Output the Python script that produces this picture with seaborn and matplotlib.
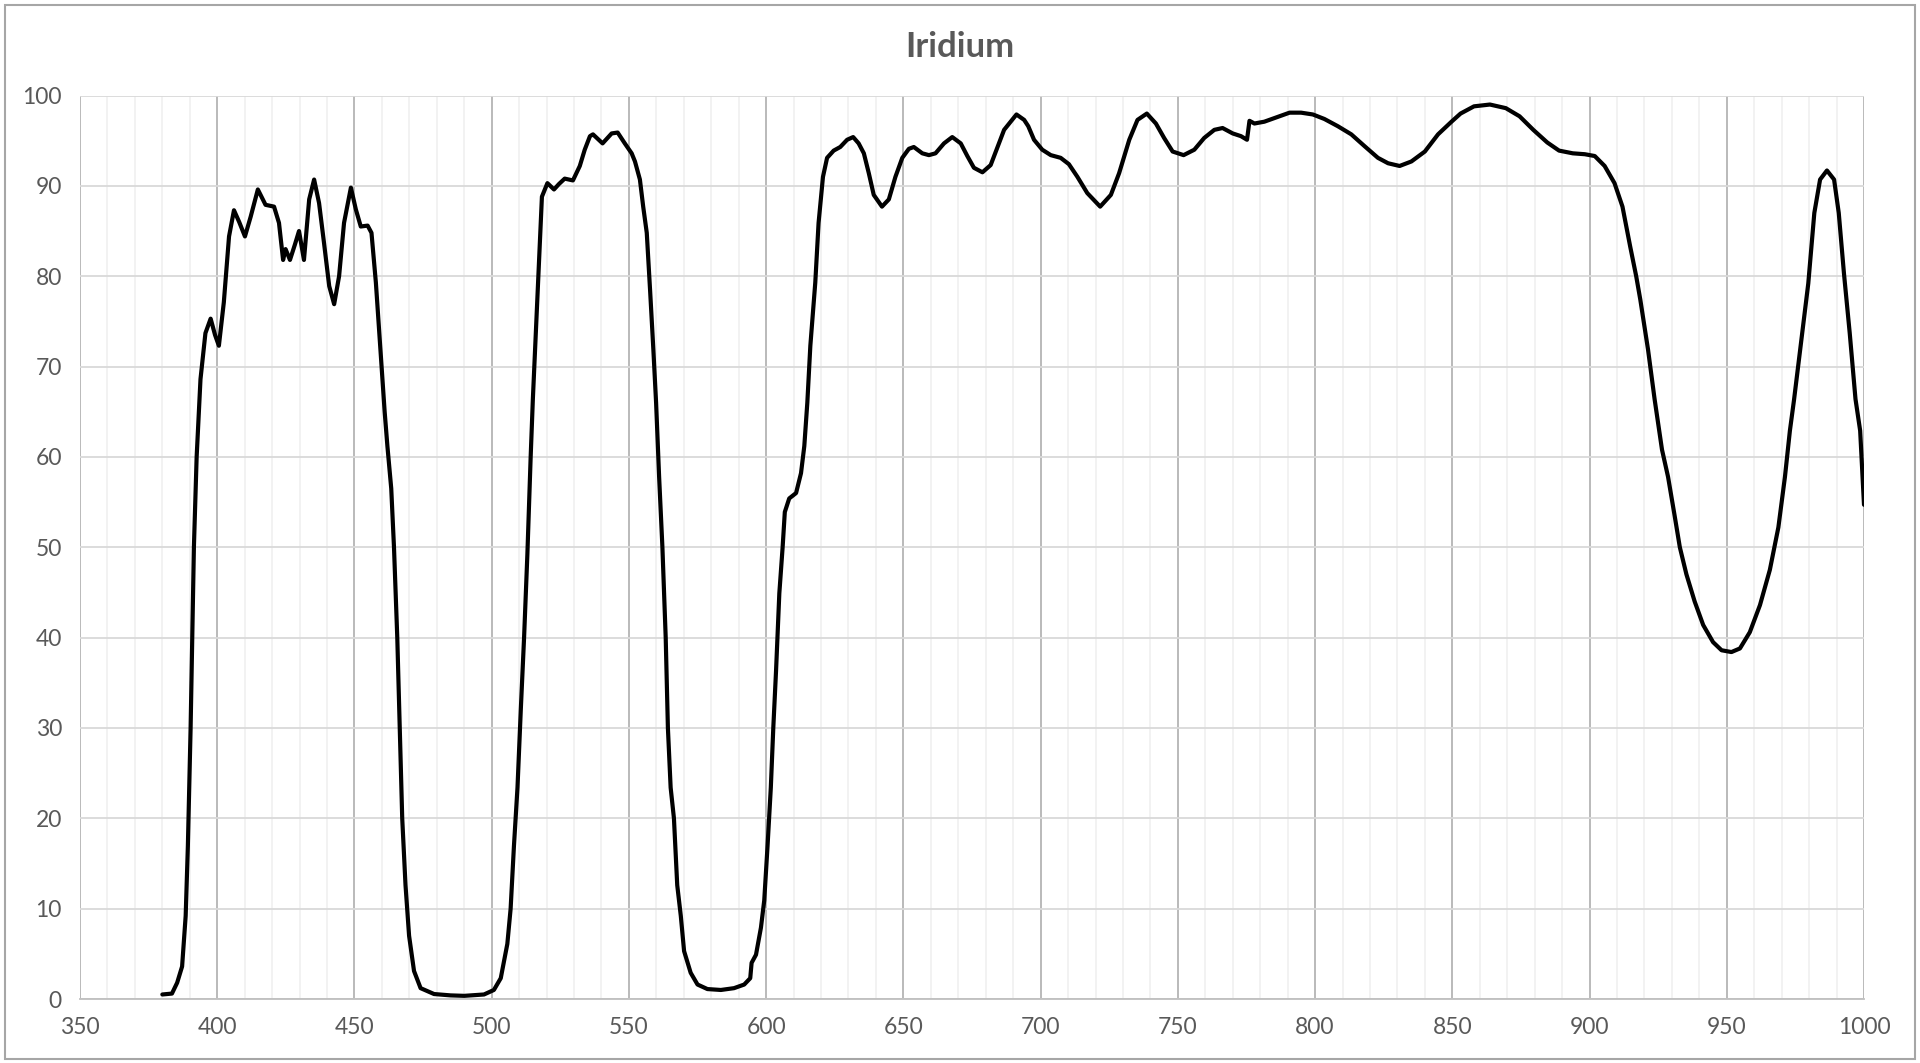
import matplotlib
matplotlib.use("Agg")
import matplotlib.pyplot as plt
import seaborn as sns
import pandas as pd
from matplotlib.patches import Rectangle
from matplotlib.ticker import MultipleLocator

title = "Iridium"

wavelength = [
    380.0, 383.5, 385.4, 387.2, 388.5, 389.3, 390.3, 390.9, 391.5, 392.5,
    393.3, 393.9, 395.7, 397.6, 399.2, 400.6, 402.4, 404.3, 406.1, 408.0,
    410.1, 412.2, 414.8, 417.6, 420.7, 422.5, 424.0, 424.9, 426.5, 428.3,
    429.8, 431.6, 433.5, 435.3, 437.1, 438.9, 440.8, 442.6, 444.4, 446.2,
    448.7, 450.5, 452.3, 454.8, 456.2, 457.8, 459.6, 461.0, 462.0, 463.4,
    464.4, 465.6, 466.5, 467.4, 468.6, 469.9, 471.7, 474.1, 479.0, 485.0,
    490.0, 497.2, 500.8, 503.3, 505.7, 506.9, 508.1, 509.4, 510.6, 511.8,
    513.0, 514.2, 515.0, 516.8, 518.3, 520.3, 522.7, 524.5, 526.6, 529.6,
    532.1, 533.9, 535.8, 536.9, 540.4, 543.7, 545.9, 548.5, 551.0, 552.2,
    554.0, 555.2, 556.5, 557.7, 558.9, 559.9, 561.0, 562.2, 563.4, 564.2,
    565.2, 566.4, 567.6, 568.9, 570.1, 572.5, 575.0, 578.6, 583.5, 588.3,
    592.0, 594.2, 594.7, 596.3, 598.1, 599.3, 600.5, 601.7, 602.6, 603.6,
    604.8, 606.0, 606.8, 608.4, 610.9, 612.7, 613.9, 615.0, 616.1, 617.9,
    619.1, 620.7, 622.2, 624.6, 627.0, 629.5, 631.7, 633.7, 635.6, 637.4,
    639.2, 642.2, 644.7, 647.1, 649.6, 652.0, 653.8, 656.9, 659.3, 661.7,
    664.8, 667.8, 670.9, 673.3, 675.7, 678.8, 681.8, 684.2, 686.7, 691.2,
    694.0, 695.5, 697.6, 700.6, 703.7, 707.3, 710.3, 713.4, 717.0, 721.7,
    725.6, 728.6, 732.3, 735.3, 738.7, 742.0, 745.0, 748.1, 752.1, 756.0,
    759.6, 763.3, 766.3, 770.0, 773.0, 775.2, 776.1, 777.9, 781.5, 785.2,
    790.7, 794.9, 799.2, 803.4, 808.3, 813.2, 818.0, 822.9, 826.6, 830.8,
    835.1, 840.0, 844.8, 849.7, 853.0, 857.9, 863.7, 869.5, 874.5, 879.5,
    884.6, 888.9, 893.9, 898.3, 901.9, 905.5, 909.1, 912.0, 914.8, 917.0,
    918.5, 921.3, 923.7, 926.4, 928.6, 931.0, 932.9, 935.3, 938.3, 941.4,
    945.0, 948.1, 951.7, 954.8, 958.4, 962.1, 965.7, 968.8, 971.2, 973.0,
    974.5, 977.5, 979.7, 981.9, 984.0, 986.5, 989.1, 990.8, 992.7, 994.8,
    996.9, 998.6, 1000.0,
]

transmission = [
    0.5, 0.6, 1.8, 3.6, 9.2, 16.9, 30.0, 40.0, 50.0, 60.0,
    65.0, 68.6, 73.7, 75.3, 73.5, 72.3, 77.1, 84.4, 87.3, 86.0,
    84.4, 86.6, 89.6, 87.9, 87.7, 85.9, 81.8, 83.0, 81.8, 83.5,
    85.0, 81.8, 88.5, 90.7, 88.1, 83.7, 78.9, 76.9, 80.0, 85.9,
    89.8, 87.4, 85.5, 85.6, 84.8, 79.3, 71.2, 65.0, 61.2, 56.5,
    50.0, 40.0, 30.0, 20.0, 12.6, 7.0, 3.1, 1.2, 0.55, 0.4,
    0.35, 0.5, 1.0, 2.3, 6.1, 10.0, 16.9, 23.4, 32.0, 40.0,
    49.2, 60.0, 66.4, 78.5, 88.8, 90.3, 89.6, 90.2, 90.8, 90.6,
    92.2, 94.0, 95.5, 95.7, 94.7, 95.8, 95.9, 94.7, 93.6, 92.7,
    90.7, 87.7, 84.8, 78.5, 71.9, 66.0, 57.8, 50.0, 40.0, 30.0,
    23.4, 20.0, 12.6, 9.2, 5.3, 2.9, 1.6, 1.1, 1.0, 1.2,
    1.6, 2.3, 4.0, 4.9, 7.9, 10.9, 16.9, 23.4, 30.0, 36.3,
    44.9, 50.0, 53.9, 55.4, 56.0, 58.2, 61.2, 66.0, 72.3, 79.3,
    85.9, 91.0, 93.1, 93.9, 94.3, 95.1, 95.4, 94.7, 93.6, 91.4,
    89.0, 87.7, 88.5, 91.0, 93.1, 94.1, 94.3, 93.6, 93.4, 93.6,
    94.7, 95.4, 94.7, 93.3, 92.0, 91.5, 92.3, 94.2, 96.2, 97.9,
    97.3, 96.6, 95.1, 94.0, 93.4, 93.1, 92.4, 91.0, 89.2, 87.7,
    89.0, 91.4, 95.1, 97.3, 98.0, 96.9, 95.3, 93.8, 93.4, 94.0,
    95.3, 96.2, 96.4, 95.8, 95.5, 95.1, 97.2, 96.9, 97.1, 97.5,
    98.1, 98.1, 97.9, 97.4, 96.6, 95.7, 94.4, 93.1, 92.5, 92.2,
    92.7, 93.8, 95.7, 97.1, 98.0, 98.8, 99.0, 98.6, 97.7, 96.2,
    94.8, 93.9, 93.6, 93.5, 93.3, 92.2, 90.3, 87.7, 83.3, 80.0,
    77.4, 71.9, 66.4, 60.8, 57.8, 53.5, 50.0, 47.0, 44.0, 41.4,
    39.5, 38.6, 38.4, 38.8, 40.6, 43.6, 47.5, 52.2, 57.8, 62.9,
    66.3, 73.7, 79.2, 87.0, 90.7, 91.7, 90.7, 87.0, 80.3, 73.7,
    66.4, 62.9, 54.7,
]

x_ticks = [350, 400, 450, 500, 550, 600, 650, 700, 750, 800, 850, 900, 950, 1000]
y_ticks = [0, 10, 20, 30, 40, 50, 60, 70, 80, 90, 100]

df = pd.DataFrame({"wavelength": wavelength, "transmission": transmission})

sns.set_theme(style="white")
plt.rcParams["font.family"] = ["Lato", "DejaVu Sans"]

W, H = 1920, 1063
fig = plt.figure(figsize=(W / 100, H / 100), dpi=100)
ax = fig.add_axes([80 / W, 1 - 999 / H, (1864 - 80) / W, (999 - 95.5) / H])

ax.set_xlim(350, 1000)
ax.set_ylim(0, 100)
ax.xaxis.set_major_locator(MultipleLocator(50))
ax.xaxis.set_minor_locator(MultipleLocator(10))
ax.yaxis.set_major_locator(MultipleLocator(10))
ax.set_axisbelow(True)
ax.grid(which="minor", axis="x", color="#f0f0f0", linewidth=1.2)
ax.grid(which="major", axis="x", color="#b4b4b4", linewidth=1.3)
ax.grid(which="major", axis="y", color="#d9d9d9", linewidth=1.3)

sns.lineplot(data=df, x="wavelength", y="transmission", ax=ax,
             color="black", linewidth=3.0, sort=False, estimator=None,
             zorder=5)

ax.set_xticks(x_ticks)
ax.set_yticks(y_ticks)
ax.set_xticklabels([str(t) for t in x_ticks])
ax.set_yticklabels([str(t) for t in y_ticks])
ax.tick_params(axis="both", which="both", length=0, labelsize=16.5,
               labelcolor="#595959")
ax.tick_params(axis="x", pad=13)
ax.tick_params(axis="y", pad=13)
ax.set_xlabel("")
ax.set_ylabel("")

for s in ["left", "top", "right"]:
    ax.spines[s].set_visible(False)
ax.spines["bottom"].set_color("#bfbfbf")
ax.spines["bottom"].set_linewidth(1.3)

fig.text(0.5, 1 - 47 / H, title, ha="center", va="center",
         fontsize=25, fontweight="bold", color="#595959")

fig.patches.append(Rectangle((5 / W, 4 / H), (W - 10) / W, (H - 9) / H,
                             transform=fig.transFigure, fill=False,
                             edgecolor="#a6a6a6", linewidth=1.5))

fig.savefig("out.png", dpi=100, facecolor="white")
